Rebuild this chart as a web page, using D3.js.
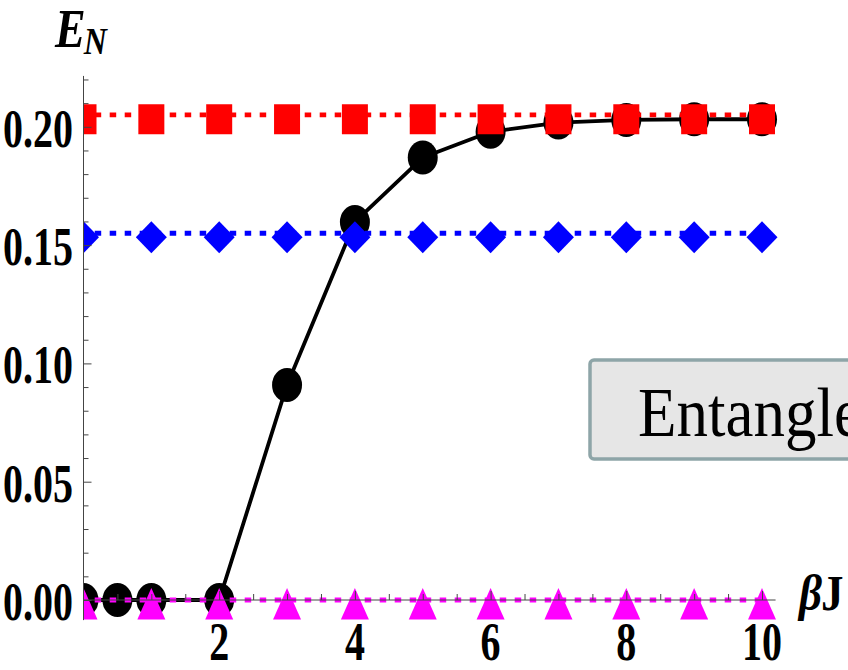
<!DOCTYPE html>
<html>
<head>
<meta charset="utf-8">
<script src="https://cdn.jsdelivr.net/npm/d3@7"></script>
<style>
  html, body { margin: 0; padding: 0; background: #fff; overflow: hidden; }
  svg { display: block; }
</style>
</head>
<body>
<svg id="chart" width="848" height="670"></svg>
<script>
// Negativity E_N versus inverse temperature βJ
const betaJ       = [0, 0.5, 1, 2, 3, 4, 5, 6, 7, 8, 9, 10];
const enThermal   = [0, 0, 0, 0, 0.0909, 0.1598, 0.187, 0.1979, 0.2018, 0.2029, 0.2032, 0.2032];

const betaJGrid   = [0, 1, 2, 3, 4, 5, 6, 7, 8, 9, 10];
const enSquares   = [0.205, 0.205, 0.205, 0.205, 0.205, 0.205, 0.205, 0.205, 0.205, 0.205, 0.205];
const enDiamonds  = [0.155, 0.155, 0.155, 0.155, 0.155, 0.155, 0.155, 0.155, 0.155, 0.155, 0.155];
const enTriangles = [0, 0, 0, 0, 0, 0, 0, 0, 0, 0, 0];

const xTickValues = [2, 4, 6, 8, 10];
const xTickLabels = ["2", "4", "6", "8", "10"];
const yTickValues = [0, 0.05, 0.10, 0.15, 0.20];
const yTickLabels = ["0.00", "0.05", "0.10", "0.15", "0.20"];

const legendText = "Entanglement";

const serif = "'Liberation Serif', 'Times New Roman', Times, serif";

const svg = d3.select("#chart");

const x = d3.scaleLinear().domain([0, 10]).range([83.5, 762]);
const y = d3.scaleLinear().domain([0, 0.2]).range([600, 126.8]);

// plot clip: marks are cut at the vertical axis
svg.append("defs").append("clipPath").attr("id", "plotClip")
  .append("rect").attr("x", x(0)).attr("y", 60).attr("width", 848 - x(0)).attr("height", y(-0.0088) - 60);

const plot = svg.append("g").attr("clip-path", "url(#plotClip)");

const pts = (xs, ys) => xs.map((d, i) => [d, ys[i]]);
const line = d3.line().x(d => x(d[0])).y(d => y(d[1]));

// black solid curve with circles
plot.append("path")
  .datum(pts(betaJ, enThermal))
  .attr("d", line)
  .attr("fill", "none").attr("stroke", "#000").attr("stroke-width", 3.8)
  .attr("stroke-linejoin", "round");

plot.selectAll("ellipse.thermal")
  .data(pts(betaJ, enThermal))
  .join("ellipse")
  .attr("class", "thermal")
  .attr("cx", d => x(d[0])).attr("cy", d => y(d[1]))
  .attr("rx", 15).attr("ry", 17)
  .attr("fill", "#000");

// dotted reference levels with their markers
function dottedSeries(ys, color, shape) {
  const data = pts(betaJGrid, ys);
  plot.append("path")
    .datum(data)
    .attr("d", line)
    .attr("fill", "none").attr("stroke", color).attr("stroke-width", 4.8)
    .attr("stroke-dasharray", "6.5 8.5").attr("stroke-dashoffset", 3.8);
  plot.selectAll("path.m-" + shape)
    .data(data)
    .join("path")
    .attr("class", "m-" + shape)
    .attr("transform", d => `translate(${x(d[0])},${y(d[1])})`)
    .attr("d", shape === "square" ? "M-13,-10.7H13V19.3H-13Z"
            : shape === "diamond" ? "M0,-12L15.5,4L0,20L-15.5,4Z"
            : "M0,-12L14,19.5L-14,19.5Z")
    .attr("fill", color);
}
dottedSeries(enSquares, "#ff0000", "square");
dottedSeries(enDiamonds, "#0000ff", "diamond");
dottedSeries(enTriangles, "#ff00ff", "triangle");

// axes drawn over the data
const axisColor = "#444";

const gx = svg.append("g").attr("transform", `translate(0,${y(0)})`);
gx.call(d3.axisBottom(x).tickValues(d3.range(0.5, 10.01, 0.5).filter(v => v % 2 !== 0))
    .tickSize(-6).tickFormat(""));
gx.call(g => g.append("g").call(d3.axisBottom(x).tickValues(xTickValues).tickSize(-9).tickFormat("")));
gx.selectAll(".domain").remove();
gx.selectAll(".tick line").attr("stroke", axisColor);
gx.append("line").attr("x1", x(0)).attr("x2", x(10.2)).attr("y1", 0).attr("y2", 0)
  .attr("stroke", axisColor).attr("stroke-width", 1);

const gy = svg.append("g").attr("transform", `translate(${x(0)},0)`);
gy.call(d3.axisRight(y).tickValues(d3.range(0, 23).map(i => i / 100).filter(v => Math.round(v * 100) % 5 !== 0))
    .tickSize(5).tickFormat(""));
gy.call(g => g.append("g").call(d3.axisRight(y).tickValues(yTickValues).tickSize(8).tickFormat("")));
gy.selectAll(".domain").remove();
gy.selectAll(".tick line").attr("stroke", axisColor);
gy.append("line").attr("x1", 0).attr("x2", 0).attr("y1", y(-0.0085)).attr("y2", y(0.2215))
  .attr("stroke", axisColor).attr("stroke-width", 1);

// tick labels
svg.append("g").selectAll("text")
  .data(xTickValues)
  .join("text")
  .attr("transform", d => `translate(${x(d)},660) scale(1,1.37)`)
  .attr("text-anchor", "middle")
  .attr("font-family", serif).attr("font-weight", "bold").attr("font-size", 40)
  .attr("fill", "#000")
  .text((d, i) => xTickLabels[i]);

svg.append("g").selectAll("text")
  .data(yTickValues)
  .join("text")
  .attr("transform", d => `translate(73,${y(d) + 20}) scale(1,1.37)`)
  .attr("text-anchor", "end")
  .attr("font-family", serif).attr("font-weight", "bold").attr("font-size", 40)
  .attr("fill", "#000")
  .text((d, i) => yTickLabels[i]);

// axis titles
const yTitle = svg.append("text")
  .attr("transform", "translate(55,47) scale(1,1.2)")
  .attr("font-family", serif).attr("font-weight", "bold").attr("font-style", "italic")
  .attr("font-size", 46).attr("fill", "#000");
yTitle.append("tspan").text("E");
yTitle.append("tspan").attr("font-size", 32).attr("dx", -2).attr("dy", 6).text("N");

const xTitle = svg.append("text")
  .attr("transform", "translate(799,610) scale(1,1.12)")
  .attr("font-family", serif).attr("font-weight", "bold")
  .attr("font-size", 45).attr("fill", "#000");
xTitle.append("tspan").attr("font-style", "italic").text("β");
xTitle.append("tspan").attr("dx", -1).text("J");

// framed label
svg.append("rect")
  .attr("x", 590).attr("y", 360).attr("width", 320).attr("height", 99).attr("rx", 4)
  .attr("fill", "#e6e6e6").attr("stroke", "#8ea5a8").attr("stroke-width", 3.5);
svg.append("text")
  .attr("transform", "translate(638,435.5) scale(1,1.1)")
  .attr("font-family", serif).attr("font-size", 63).attr("fill", "#000")
  .text(legendText);
</script>
</body>
</html>
